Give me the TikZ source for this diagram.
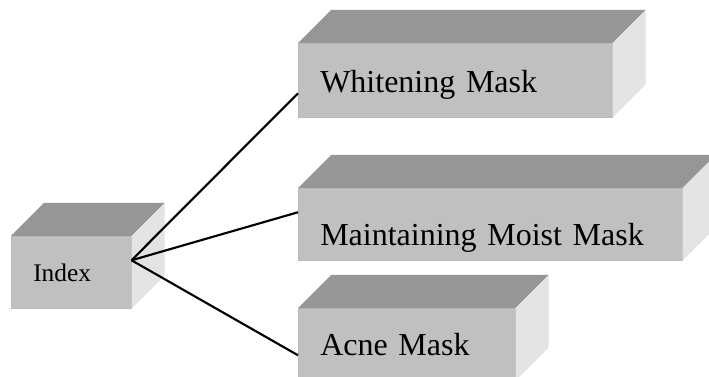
\documentclass[tikz,border=0pt]{standalone}
\usepackage{fontspec}
\setmainfont{Liberation Serif}
\usetikzlibrary{positioning, calc}

\definecolor{frente}{RGB}{192,192,192}
\definecolor{techo}{RGB}{150,150,150}
\definecolor{lado}{RGB}{227,227,227}

\begin{document}
\begin{tikzpicture}[
  x=0.75pt, y=-0.75pt,
  caja/.style={rectangle, fill=frente, draw=black!28, line width=0.4pt,
    anchor=north west, align=left, inner xsep=16.5pt, inner ysep=0pt,
    text depth=0pt, minimum height=54pt,
    font=\fontsize{24}{28}\selectfont},
  linea/.style={line width=1.6pt, black}
]
\clip (0,0) rectangle (709,377);
\fill[white] (0,0) rectangle (709,377);

% cajas
\node[caja, text width=57pt, text height=13.5pt,
  font=\fontsize{19}{22}\selectfont] (indice) at (11,236) {Index};
\node[caja, text width=202.5pt, text height=18pt,
  minimum height=55.5pt] (blanqueo) at (298,43) {Whitening Mask};
\node[caja, text width=255pt, text height=31.5pt] (hidratante) at (298,188) {Maintaining Moist Mask};
\node[caja, text width=129.75pt, text height=16.5pt] (acne) at (298,308) {Acne Mask};

% efecto 3D
\foreach \n in {indice, blanqueo, hidratante, acne} {
  \fill[techo] (\n.north west) -- ++(33,-33)
    -- ($(\n.north east)+(33,-33)$) -- (\n.north east) -- cycle;
  \fill[lado] (\n.north east) -- ++(33,-33)
    -- ($(\n.south east)+(33,-33)$) -- (\n.south east) -- cycle;
}

% conexiones
\draw[linea] ([yshift=9pt]indice.east) -- ([yshift=-9.75pt]blanqueo.west);
\draw[linea] ([yshift=9pt]indice.east) -- ([yshift=9pt]hidratante.west);
\draw[linea] ([yshift=9pt]indice.east) -- ([yshift=-8.25pt]acne.west);
\end{tikzpicture}
\end{document}
